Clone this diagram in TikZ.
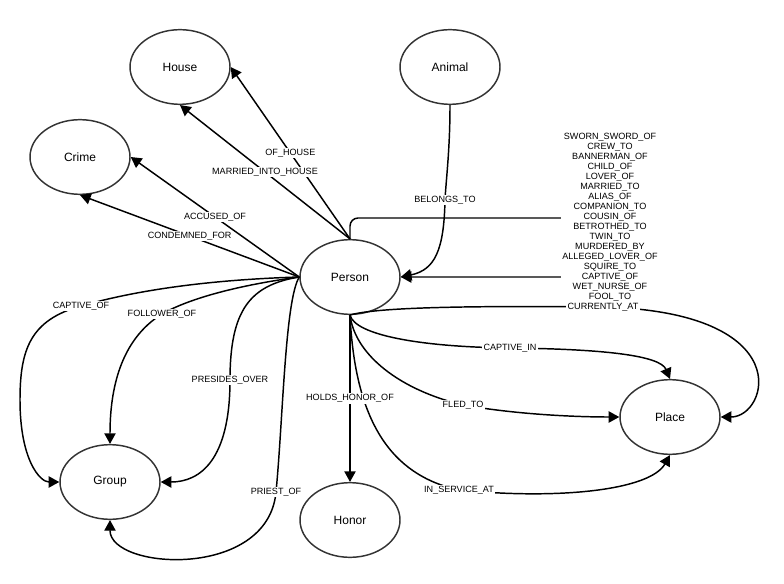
\documentclass[tikz,border=0pt]{standalone}
\usepackage{fontspec}
\setmainfont{Liberation Sans}
\usepackage{tikz}
\usetikzlibrary{shapes.geometric, arrows.meta}
\definecolor{nodeline}{RGB}{51, 51, 51}

\begin{document}
\begin{tikzpicture}[
    x=0.75pt, y=-0.75pt,
    entity/.style={draw=nodeline, line width=1.1pt, ellipse, minimum width=75pt, minimum height=56pt, inner sep=0pt, font=\fontsize{9}{11}\selectfont},
    rel/.style={fill=white, inner sep=1pt, font=\fontsize{6.8}{7.5}\selectfont, align=center},
    arrow/.style={-{Triangle[length=8pt,width=8.5pt]}, line width=1.1pt}
]
    \useasboundingbox (0,0) rectangle (784,584);

    % Entities
    \node[entity] (house) at (180,67) {House};
    \node[entity] (animal) at (450,67) {Animal};
    \node[entity] (crime) at (80,157) {Crime};
    \node[entity] (person) at (350,277) {Person};
    \node[entity] (group) at (110,482) {Group};
    \node[entity] (honor) at (350,520) {Honor};
    \node[entity] (place) at (670,417) {Place};

    % Person to house and crime
    \draw[arrow] (person.north) -- node[rel] {OF\_HOUSE} (house.east);
    \draw[arrow] (person.north) -- node[rel] {MARRIED\_INTO\_HOUSE} (house.south);
    \draw[arrow] (person.west) -- node[rel] {ACCUSED\_OF} (crime.east);
    \draw[arrow] (person.west) -- node[rel] {CONDEMNED\_FOR} (crime.south);

    % Animal
    \draw[arrow] (animal.south) .. controls (450,150) and (446,180) .. (445,200) node[rel] {BELONGS\_TO}
        .. controls (444,250) and (435,270) .. (person.east);

    % Person to person
    \coordinate (loopTop) at (610,218);
    \coordinate (loopBot) at (610,277);
    \draw[arrow, rounded corners=6pt] (person.north) |- (loopTop) -- (loopBot) -- (person.east);
    \node[rel] (kin) at (610,217) {SWORN\_SWORD\_OF\\CREW\_TO\\BANNERMAN\_OF\\CHILD\_OF\\LOVER\_OF\\MARRIED\_TO\\ALIAS\_OF\\COMPANION\_TO\\COUSIN\_OF\\BETROTHED\_TO\\TWIN\_TO\\MURDERED\_BY\\ALLEGED\_LOVER\_OF\\SQUIRE\_TO\\CAPTIVE\_OF\\WET\_NURSE\_OF\\FOOL\_TO};

    % Person to place
    \draw[arrow] (person.south) .. controls (380,306) and (500,306) .. (603,307) node[rel] {CURRENTLY\_AT}
        .. controls (800,312) and (768,417) .. (place.east);
    \draw[arrow] (person.south) .. controls (355,335) and (420,347) .. (510,348) node[rel] {CAPTIVE\_IN}
        .. controls (600,349) and (660,355) .. (place.north);
    \draw[arrow] (person.south) .. controls (355,355) and (400,390) .. (463,405) node[rel] {FLED\_TO}
        .. controls (520,415) and (580,417) .. (place.west);
    \draw[arrow] (person.south) .. controls (355,420) and (390,475) .. (459,490) node[rel] {IN\_SERVICE\_AT}
        .. controls (560,500) and (650,490) .. (place.south);

    % Honor
    \draw[arrow] (person.south) -- node[rel] {HOLDS\_HONOR\_OF} (honor.north);

    % Person to group
    \draw[arrow] (person.west) .. controls (200,280) and (130,292) .. (81,306) node[rel] {CAPTIVE\_OF}
        .. controls (30,320) and (20,350) .. (20,400) .. controls (20,460) and (40,482) .. (group.west);
    \draw[arrow] (person.west) .. controls (240,285) and (190,298) .. (162,314) node[rel] {FOLLOWER\_OF}
        .. controls (120,340) and (110,390) .. (group.north);
    \draw[arrow] (person.west) .. controls (250,285) and (230,310) .. (230,380) node[rel] {PRESIDES\_OVER}
        .. controls (230,460) and (200,482) .. (group.east);
    \draw[arrow] (person.west) .. controls (285,300) and (283,420) .. (276,492) node[rel] {PRIEST\_OF}
        .. controls (268,580) and (110,570) .. (group.south);

\end{tikzpicture}
\end{document}
